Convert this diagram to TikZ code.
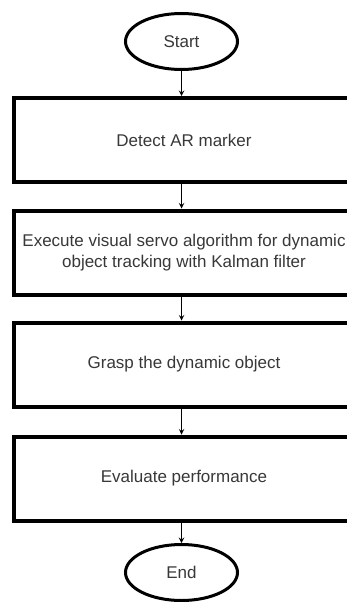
\documentclass[tikz,border=0pt]{standalone}
\usepackage{fontspec}
\setmainfont{Liberation Sans}
\usetikzlibrary{shapes.geometric}

\tikzset{
    stepbox/.style={draw, line width=4pt, minimum width=340pt, minimum height=84pt, inner sep=2pt, align=center},
    term/.style={draw, ellipse, line width=3pt, minimum width=112pt, minimum height=56pt, inner sep=0pt},
    flow/.style={->, line width=1.4pt}
}

\begin{document}
\begin{tikzpicture}[>=stealth, x=1pt, y=-1pt, font=\fontsize{17}{20.5}\selectfont, text=black!78]
    \path[use as bounding box, clip] (0, 0) rectangle (347, 602);
    \fill[white] (0, 0) rectangle (347, 602);

    % Terminals
    \node[term] (start) at (181.5, 41.5) {Start};
    \node[term] (stop) at (181.5, 572.5) {End};

    % Steps (right side runs off the page)
    \node[stepbox] (detect) at (184, 140) {Detect AR marker};
    \node[stepbox] (servo) at (184, 252.5) {Execute visual servo algorithm for dynamic\\object tracking with Kalman filter};
    \node[stepbox] (grasp) at (184, 364.5) {Grasp the dynamic object};
    \node[stepbox] (evaluate) at (184, 478.5) {Evaluate performance};

    % Flow arrows
    \draw[flow] (start) -- (start |- detect.north);
    \draw[flow] (start |- detect.south) -- (start |- servo.north);
    \draw[flow] (start |- servo.south) -- (start |- grasp.north);
    \draw[flow] (start |- grasp.south) -- (start |- evaluate.north);
    \draw[flow] (start |- evaluate.south) -- (stop);
\end{tikzpicture}
\end{document}
